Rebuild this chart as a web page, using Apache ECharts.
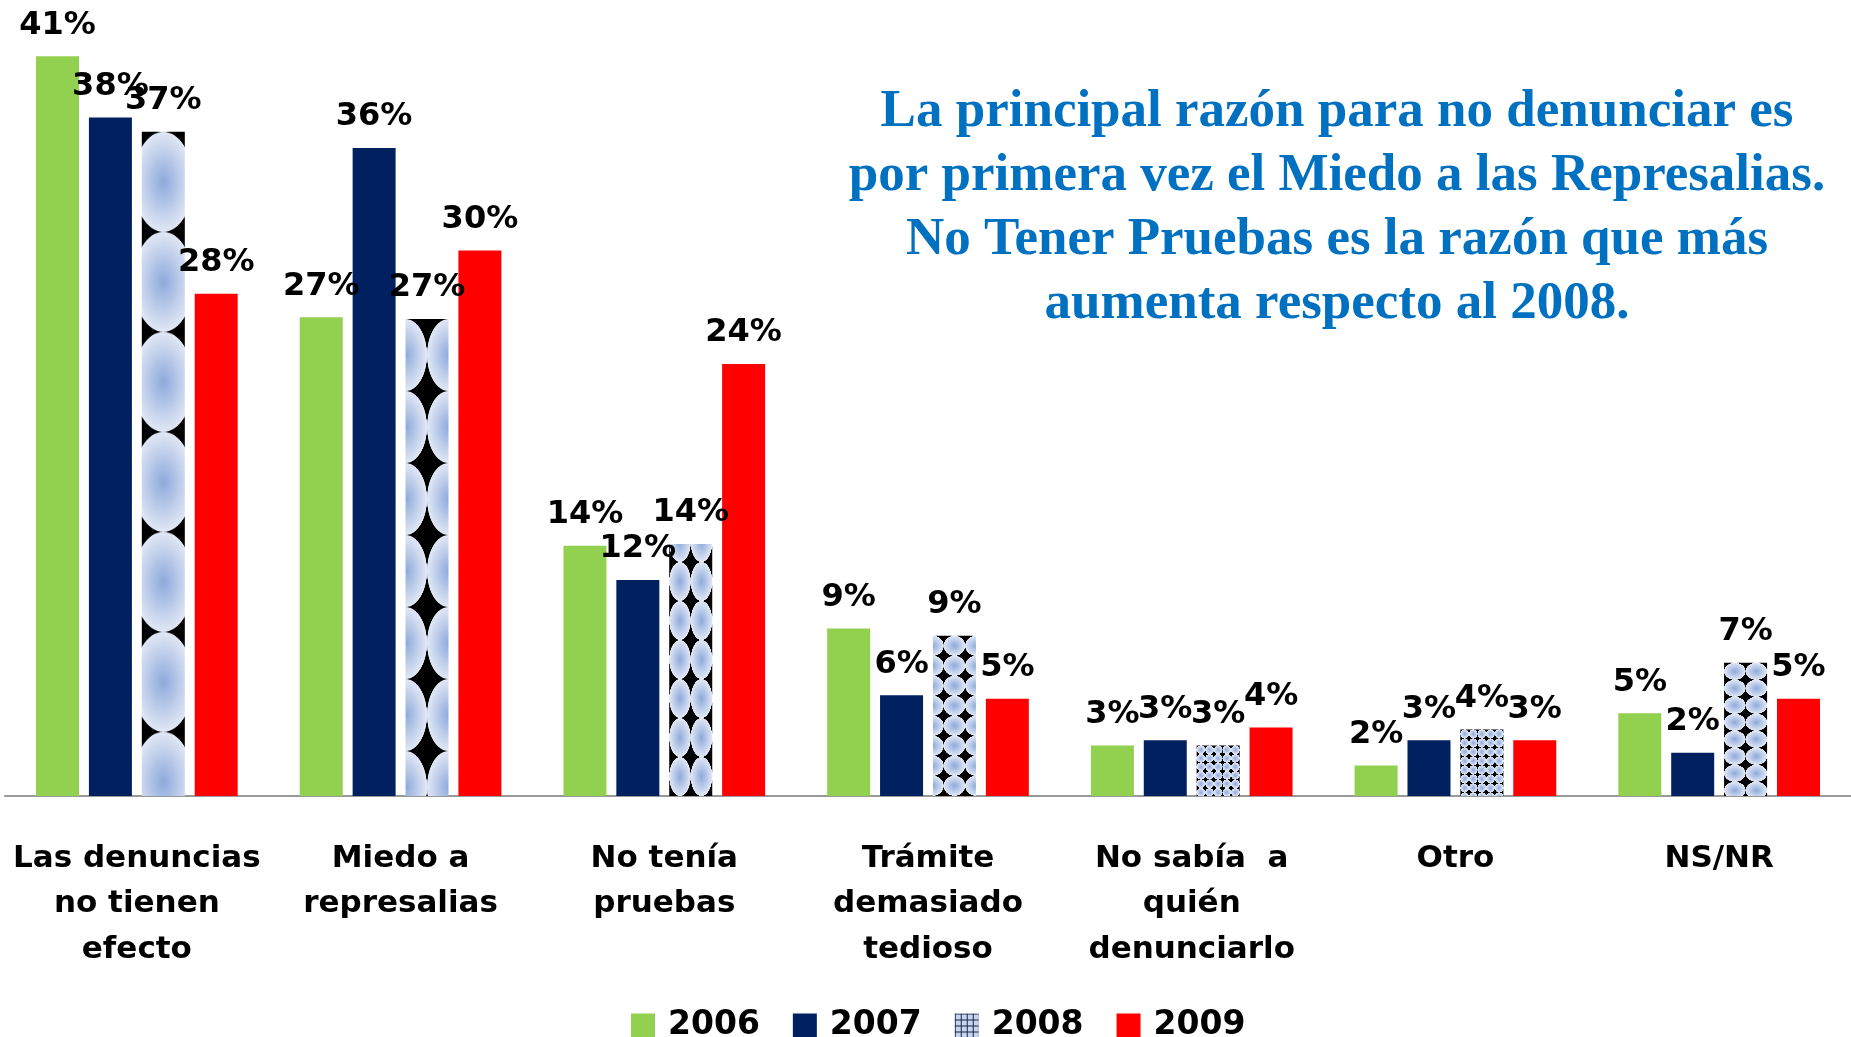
<!DOCTYPE html>
<html>
<head>
<meta charset="UTF-8">
<title>Razones para no denunciar</title>
<script src="https://cdn.jsdelivr.net/npm/echarts@6.0.0/dist/echarts.min.js"></script>
<style>
html, body { margin: 0; padding: 0; background: #fff; }
#chart { width: 1851px; height: 1037px; }
</style>
</head>
<body>
<div id="chart"></div>
<script>
var categories = ['Las denuncias\nno tienen\nefecto', 'Miedo a\nrepresalias', 'No tenía\npruebas',
    'Trámite\ndemasiado\ntedioso', 'No sabía  a\nquién\ndenunciarlo', 'Otro', 'NS/NR'];
var years = ['2006', '2007', '2008', '2009'];
var v2006 = [41.1, 26.6, 13.9, 9.3, 2.8, 1.7, 4.6];
var v2007 = [37.7, 36.0, 12.0, 5.6, 3.1, 3.1, 2.4];
var v2008 = [36.9, 26.5, 14.0, 8.9, 2.8, 3.7, 7.4];
var v2009 = [27.9, 30.3, 24.0, 5.4, 3.8, 3.1, 5.4];

// textura de 2008 en cada barra: celdas por ancho, alto de celda, desfase (en celdas), anclaje
var tiles2008 = [
    { cols: 0.72, h: 100, shift: 0, from: 'top' },
    { cols: 1, h: 72, shift: 0.5, from: 'top' },
    { cols: 2, h: 39, shift: 0.5, from: 'bottom' },
    { cols: 2, h: 20, shift: 0, from: 'top' },
    { cols: 5, h: 8.5, shift: 0, from: 'top' },
    { cols: 5, h: 9, shift: 0, from: 'top' },
    { cols: 2, h: 17, shift: 0.5, from: 'top' }
];

function circleTile() {
    var c = document.createElement('canvas');
    c.width = 120;
    c.height = 120;
    var ctx = c.getContext('2d');
    ctx.fillStyle = '#000';
    ctx.fillRect(0, 0, 120, 120);
    var g = ctx.createRadialGradient(60, 60, 0, 60, 60, 60);
    g.addColorStop(0, '#8eaadc');
    g.addColorStop(1, '#e2e8f5');
    ctx.fillStyle = g;
    ctx.beginPath();
    ctx.arc(60, 60, 60, 0, Math.PI * 2);
    ctx.fill();
    return c;
}

function gridTile() {
    var c = document.createElement('canvas');
    c.width = 6;
    c.height = 6;
    var ctx = c.getContext('2d');
    ctx.fillStyle = '#c6d4ef';
    ctx.fillRect(0, 0, 6, 6);
    ctx.fillStyle = '#1c2640';
    ctx.fillRect(0, 0, 6, 1);
    ctx.fillRect(0, 0, 1, 6);
    return c;
}

var circle = circleTile();
var labelFont = {
    show: true,
    position: 'top',
    distance: 15,
    color: '#000',
    fontFamily: 'DejaVu Sans',
    fontWeight: 'bold',
    fontSize: 32,
    formatter: function (p) {
        return Math.round(p.value) + '%';
    }
};

function barSeries(name, values, color) {
    return {
        name: name,
        type: 'bar',
        barWidth: 43,
        barGap: '23%',
        data: values,
        itemStyle: { color: color },
        label: labelFont
    };
}

var chart = echarts.init(document.getElementById('chart'));
var option = {
    animation: false,
    backgroundColor: '#fff',
    title: {
        text: 'La principal razón para no denunciar es\npor primera vez el Miedo a las Represalias.\nNo Tener Pruebas es la razón que más\naumenta respecto al 2008.',
        left: 1337,
        top: 80,
        padding: 0,
        textAlign: 'center',
        textStyle: {
            fontFamily: 'Liberation Serif',
            fontWeight: 'bold',
            fontSize: 53,
            lineHeight: 64,
            color: '#0070C0'
        }
    },
    legend: {
        data: years,
        left: 626,
        top: 1004,
        icon: 'rect',
        itemWidth: 24,
        itemHeight: 24,
        itemGap: 33,
        textStyle: {
            fontFamily: 'DejaVu Sans',
            fontWeight: 'bold',
            fontSize: 33,
            color: '#000',
            padding: [0, 0, 0, 8]
        }
    },
    grid: { left: 5, right: 0, top: 4, bottom: 241, outerBoundsMode: 'none' },
    xAxis: {
        type: 'category',
        data: categories,
        axisLine: { lineStyle: { color: '#999', width: 2 } },
        axisTick: { show: false },
        axisLabel: {
            interval: 0,
            margin: 40,
            color: '#000',
            fontFamily: 'DejaVu Sans',
            fontWeight: 'bold',
            fontSize: 31,
            lineHeight: 45.5
        }
    },
    yAxis: { type: 'value', min: 0, max: 44, show: false },
    series: [
        barSeries('2006', v2006, '#92D050'),
        barSeries('2007', v2007, '#002060'),
        barSeries('2008', v2008, { image: gridTile(), repeat: 'repeat' }),
        barSeries('2009', v2009, '#FF0000')
    ]
};
chart.setOption(option);

// segunda pasada: ajustar la textura de cada barra de 2008 a su posición
var data = chart.getModel().getSeriesByIndex(2).getData();
var items = v2008.map(function (v, i) {
    var box = data.getItemLayout(i);
    var t = tiles2008[i];
    var bw = Math.abs(box.width);
    var mid = Math.min(box.x, box.x + box.width) + bw / 2;
    var w = bw / t.cols;
    var top = Math.min(box.y, box.y + box.height);
    var bottom = Math.max(box.y, box.y + box.height);
    return {
        value: v,
        itemStyle: {
            color: {
                image: circle,
                repeat: 'repeat',
                x: mid - w / 2 + t.shift * w,
                y: t.from == 'top' ? top : bottom,
                scaleX: w / 120,
                scaleY: t.h / 120
            }
        }
    };
});
chart.setOption({ series: [{}, {}, { data: items }, {}] });
</script>
</body>
</html>
